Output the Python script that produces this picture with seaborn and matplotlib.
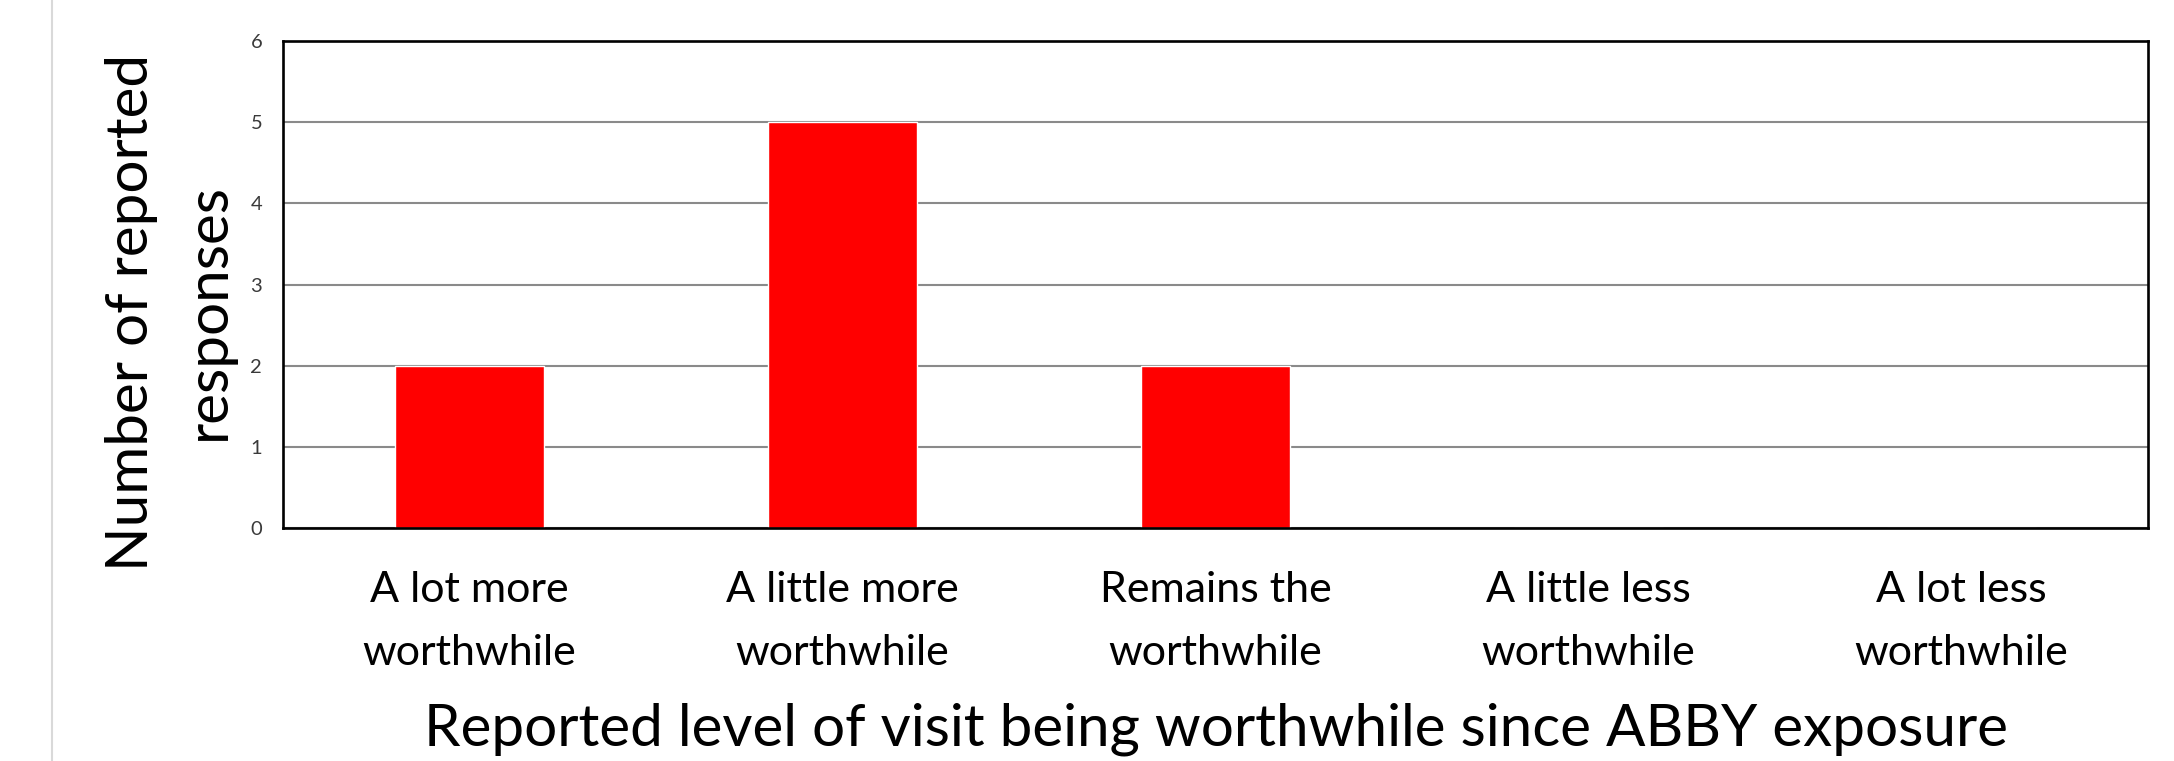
import matplotlib
matplotlib.use("Agg")
import matplotlib.pyplot as plt
from matplotlib.lines import Line2D
import seaborn as sns

categories = ["A lot more\nworthwhile", "A little more\nworthwhile", "Remains the\nworthwhile",
              "A little less\nworthwhile", "A lot less\nworthwhile"]
counts = [2, 5, 2, 0, 0]
y_ticks = [0, 1, 2, 3, 4, 5, 6]
x_title = "Reported level of visit being worthwhile since ABBY exposure"
y_title = "Number of reported\nresponses"

sns.set_theme(style="white")
plt.rcParams['font.family'] = ['Lato', 'DejaVu Sans']

W, H = 2174, 761
fig = plt.figure(figsize=(W / 100, H / 100), dpi=100)
ax_l, ax_r, ax_t, ax_b = 283, 2148, 41, 528
ax = fig.add_axes([ax_l / W, 1 - ax_b / H, (ax_r - ax_l) / W, (ax_b - ax_t) / H])

sns.barplot(x=categories, y=counts, color="#FF0000", saturation=1, width=0.4, ax=ax, zorder=3)

ax.set_xlim(-0.5, 4.5)
ax.set_ylim(0, 6)
ax.set_yticks(y_ticks)
ax.set_yticklabels([str(t) for t in y_ticks])
ax.yaxis.grid(True, color="#8a8a8a", linewidth=1.5, zorder=0)
ax.xaxis.grid(False)
ax.set_axisbelow(True)
for s in ax.spines.values():
    s.set_visible(True)
    s.set_color("black")
    s.set_linewidth(1.9)
    s.set_zorder(4)

ax.tick_params(axis="y", length=0, pad=15, labelsize=14.5, labelcolor="#3a3a3a")
ax.tick_params(axis="x", length=0, pad=31, labelsize=31, labelcolor="black")
for lab in ax.get_xticklabels():
    lab.set_linespacing(1.8)

ax.set_xlabel(x_title, fontsize=42, color="black", va="baseline")
ax.xaxis.set_label_coords(0.5, -(745 - ax_b) / (ax_b - ax_t))
ax.set_ylabel(y_title, fontsize=42, color="black", va="center", ha="center",
              multialignment="center", linespacing=1.55)
ax.yaxis.set_label_coords((170 - ax_l) / (ax_r - ax_l), (ax_b - 312) / (ax_b - ax_t))

fig.add_artist(Line2D([52 / W, 52 / W], [0, 1], transform=fig.transFigure,
                      color="#d9d9d9", linewidth=1.5))

fig.savefig("out.png", dpi=100, facecolor="white")
